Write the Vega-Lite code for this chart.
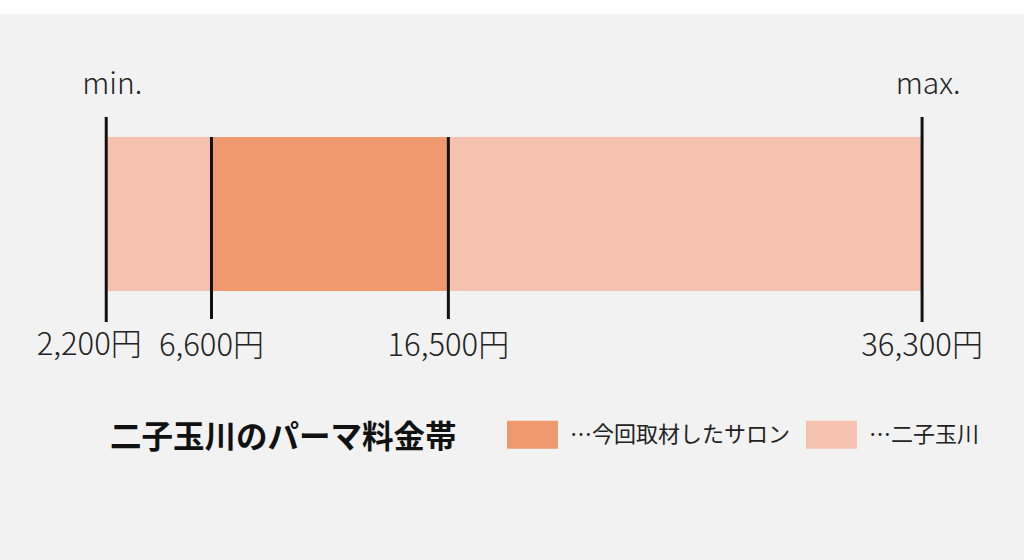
{
  "$schema": "https://vega.github.io/schema/vega-lite/v6.json",
  "width": 1024,
  "height": 560,
  "autosize": {"type": "fit", "contains": "padding"},
  "padding": {"top": 14, "left": 0, "right": 0, "bottom": 0},
  "background": "#ffffff",
  "config": {
    "view": {"fill": "#f2f2f2", "stroke": null},
    "font": "Noto Sans CJK JP"
  },
  "datasets": {
    "ranges": [
      {"series": "…二子玉川", "low": 2200, "high": 36300},
      {"series": "…今回取材したサロン", "low": 6600, "high": 16500}
    ],
    "points": [
      {"value": 2200, "label": "2,200円", "end": "min."},
      {"value": 6600, "label": "6,600円", "end": ""},
      {"value": 16500, "label": "16,500円", "end": ""},
      {"value": 36300, "label": "36,300円", "end": "max."}
    ]
  },
  "layer": [
    {
      "data": {"name": "ranges"},
      "mark": {"type": "rect"},
      "encoding": {
        "x": {"field": "low", "type": "quantitative", "axis": null,
              "scale": {"domain": [-2240, 40560], "nice": false, "zero": false}},
        "x2": {"field": "high"},
        "y": {"datum": 137, "type": "quantitative", "axis": null,
              "scale": {"domain": [14, 560], "reverse": true, "nice": false, "zero": false}},
        "y2": {"datum": 291},
        "color": {
          "field": "series", "type": "nominal",
          "scale": {"domain": ["…今回取材したサロン", "…二子玉川"], "range": ["#F0996F", "#F5C2B0"]},
          "legend": {
            "title": "二子玉川のパーマ料金帯",
            "orient": "none",
            "legendX": 110,
            "legendY": 395,
            "direction": "horizontal",
            "titleOrient": "left",
            "titleAnchor": "middle",
            "titleFontSize": 31.5,
            "titleFontWeight": "bold",
            "titleColor": "#111111",
            "titleFont": "Noto Sans CJK JP",
            "titlePadding": 50,
            "titleLimit": 600,
            "titleBaseline": "line-top",
            "titleLineHeight": 20,
            "symbolType": "M-1,-0.55H1V0.55H-1Z",
            "symbolSize": 2601,
            "symbolStrokeWidth": 0,
            "symbolOpacity": 1,
            "labelFontSize": 22,
            "labelFont": "Noto Sans CJK JP",
            "labelColor": "#222222",
            "labelOffset": 12,
            "labelLimit": 400,
            "columnPadding": 15
          }
        }
      }
    },
    {
      "data": {"name": "points"},
      "transform": [{"filter": "datum.end != ''"}],
      "mark": {"type": "rule", "color": "#111111", "strokeWidth": 3},
      "encoding": {
        "x": {"field": "value", "type": "quantitative"},
        "y": {"datum": 117, "type": "quantitative"},
        "y2": {"datum": 322}
      }
    },
    {
      "data": {"name": "points"},
      "transform": [{"filter": "datum.end == ''"}],
      "mark": {"type": "rule", "color": "#111111", "strokeWidth": 3},
      "encoding": {
        "x": {"field": "value", "type": "quantitative"},
        "y": {"datum": 137, "type": "quantitative"},
        "y2": {"datum": 319}
      }
    },
    {
      "data": {"name": "points"},
      "transform": [{"filter": "datum.end != ''"}],
      "mark": {"type": "text", "fontSize": 30, "fontWeight": 300, "color": "#222222", "align": "center", "baseline": "alphabetic", "dx": 6},
      "encoding": {
        "x": {"field": "value", "type": "quantitative"},
        "y": {"datum": 94, "type": "quantitative"},
        "text": {"field": "end"}
      }
    },
    {
      "data": {"name": "points"},
      "transform": [{"filter": "datum.value == 2200"}],
      "mark": {"type": "text", "fontSize": 31, "fontWeight": 300, "color": "#222222", "align": "center", "baseline": "alphabetic", "dx": -17},
      "encoding": {
        "x": {"field": "value", "type": "quantitative"},
        "y": {"datum": 355, "type": "quantitative"},
        "text": {"field": "label"}
      }
    },
    {
      "data": {"name": "points"},
      "transform": [{"filter": "datum.value != 2200"}],
      "mark": {"type": "text", "fontSize": 31, "fontWeight": 300, "color": "#222222", "align": "center", "baseline": "alphabetic"},
      "encoding": {
        "x": {"field": "value", "type": "quantitative"},
        "y": {"datum": 356, "type": "quantitative"},
        "text": {"field": "label"}
      }
    }
  ]
}
